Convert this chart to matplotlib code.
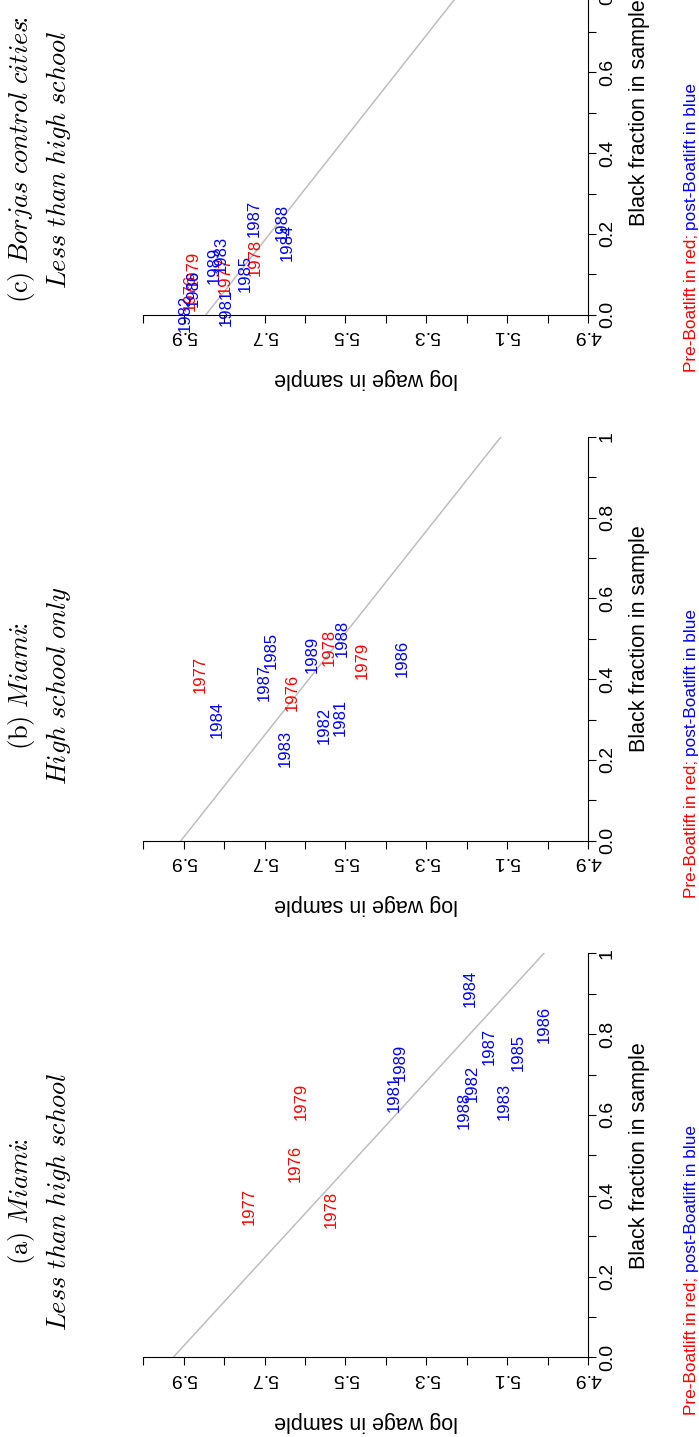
import matplotlib
matplotlib.use("Agg")
import matplotlib.pyplot as plt

plt.rcParams['font.family'] = ['Liberation Sans', 'DejaVu Sans']
plt.rcParams['mathtext.fontset'] = 'cm'

years = [1976, 1977, 1978, 1979, 1981, 1982, 1983, 1984, 1985, 1986, 1987, 1988, 1989]

# (a) Miami: less than high school
wage_a = [5.624, 5.738, 5.535, 5.610, 5.380, 5.186, 5.108, 5.191, 5.073, 5.009, 5.145, 5.207, 5.365]
black_a = [0.480, 0.373, 0.365, 0.633, 0.652, 0.677, 0.634, 0.912, 0.754, 0.825, 0.769, 0.610, 0.730]

# (b) Miami: high school only
wage_b = [5.632, 5.859, 5.541, 5.459, 5.512, 5.553, 5.649, 5.818, 5.683, 5.360, 5.702, 5.508, 5.581]
black_b = [0.368, 0.412, 0.478, 0.447, 0.304, 0.286, 0.229, 0.299, 0.470, 0.450, 0.391, 0.500, 0.461]

# (c) Borjas control cities: less than high school
wage_c = [5.884, 5.798, 5.722, 5.877, 5.796, 5.897, 5.808, 5.643, 5.749, 5.877, 5.725, 5.657, 5.825]
black_c = [0.056, 0.098, 0.141, 0.111, 0.018, 0.004, 0.148, 0.179, 0.101, 0.066, 0.239, 0.229, 0.123]

# grey line: log wage at black fraction 0 and 1
line_a = [5.926, 5.009]
line_b = [5.907, 5.115]
line_c = [5.845, 5.057]

title_top = [r"$\mathrm{(a)}\ \mathit{Miami}\!\!:$",
             r"$\mathrm{(b)}\ \mathit{Miami}\!\!:$",
             r"$\mathrm{(c)}\ \mathit{Borjas\ control\ cities}\!\!:$"]
title_bot = [r"$\mathit{Less\ than\ high\ school}$",
             r"$\mathit{High\ school\ only}$",
             r"$\mathit{Less\ than\ high\ school}$"]

wage_ticks = [5.9, 5.7, 5.5, 5.3, 5.1, 4.9]
wage_minor = [6.0, 5.8, 5.6, 5.4, 5.2, 5.0]
black_ticks = [0.0, 0.2, 0.4, 0.6, 0.8, 1.0]
black_labels = ["0.0", "0.2", "0.4", "0.6", "0.8", "1"]
black_minor = [0.1, 0.3, 0.5, 0.7, 0.9]

W, H = 699, 1437
fig = plt.figure(figsize=(W / 100, H / 100), dpi=100)

# pixel row of black fraction = 0 for each panel (figure is turned 90 degrees)
base_px = [1357.3, 840.7, 314.7]
panels = [(wage_a, black_a, line_a), (wage_b, black_b, line_b), (wage_c, black_c, line_c)]

notes = []
for k, (wage, black, line) in enumerate(panels):
    y0 = base_px[k]
    ax = fig.add_axes([143.3 / W, 1 - y0 / H, 444.7 / W, 404 / H])
    ax.set_xlim(6.0, 4.9)
    ax.set_ylim(0, 1)
    ax.plot(line, [0, 1], color="#bebebe", lw=1.1)
    for yr, w, b in zip(years, wage, black):
        col = "#ff0000" if yr < 1980 else "#0000ff"
        ax.text(w, b, str(yr), rotation=90, ha="center", va="center",
                color=col, fontsize=12, clip_on=False)

    for s in ["top", "left"]:
        ax.spines[s].set_visible(False)
    for s in ["bottom", "right"]:
        ax.spines[s].set_linewidth(0.8)
    ax.xaxis.set_ticks_position("bottom")
    ax.yaxis.tick_right()
    ax.set_xticks(wage_ticks)
    ax.set_xticklabels([f"{v:.1f}" for v in wage_ticks], rotation=180, fontsize=14)
    ax.set_xticks(wage_minor, minor=True)
    ax.set_yticks(black_ticks)
    ax.set_yticklabels(black_labels, rotation=90, va="center", fontsize=14)
    ax.set_yticks(black_minor, minor=True)
    ax.tick_params(which="both", length=5.8, width=0.8, direction="out")
    ax.tick_params(axis="x", pad=3)
    ax.tick_params(axis="y", pad=2)

    ax.set_xlabel("log wage in sample", rotation=180, fontsize=15.5, va="center")
    ax.xaxis.set_label_coords(0.5, -64 / 404)
    ax.yaxis.set_label_position("right")
    ax.set_ylabel("Black fraction in sample", rotation=90, fontsize=15.5,
                  va="center", ha="center")
    ax.yaxis.set_label_coords(1 + 52 / 444.7, 0.5)

    yc = 1 - (y0 - 155) / H
    fig.text(21.5 / W, yc, title_top[k], rotation=90, ha="center", va="center", fontsize=19)
    fig.text(58.5 / W, yc, title_bot[k], rotation=90, ha="center", va="center", fontsize=19)

    t1 = fig.text(691.7 / W, 1 - (y0 + 57.7) / H, "Pre-Boatlift in red;", color="#ff0000",
                  rotation=90, ha="center", va="bottom", fontsize=12.4)
    notes.append(t1)

fig.canvas.draw()
r = fig.canvas.get_renderer()
for t1 in notes:
    bb = t1.get_window_extent(r)
    fig.text(691.7 / W, (bb.y1 + 4.5) / H, "post-Boatlift in blue", color="#0000ff",
             rotation=90, ha="center", va="bottom", fontsize=12.4)

fig.savefig("out.png", dpi=100, facecolor="white")
